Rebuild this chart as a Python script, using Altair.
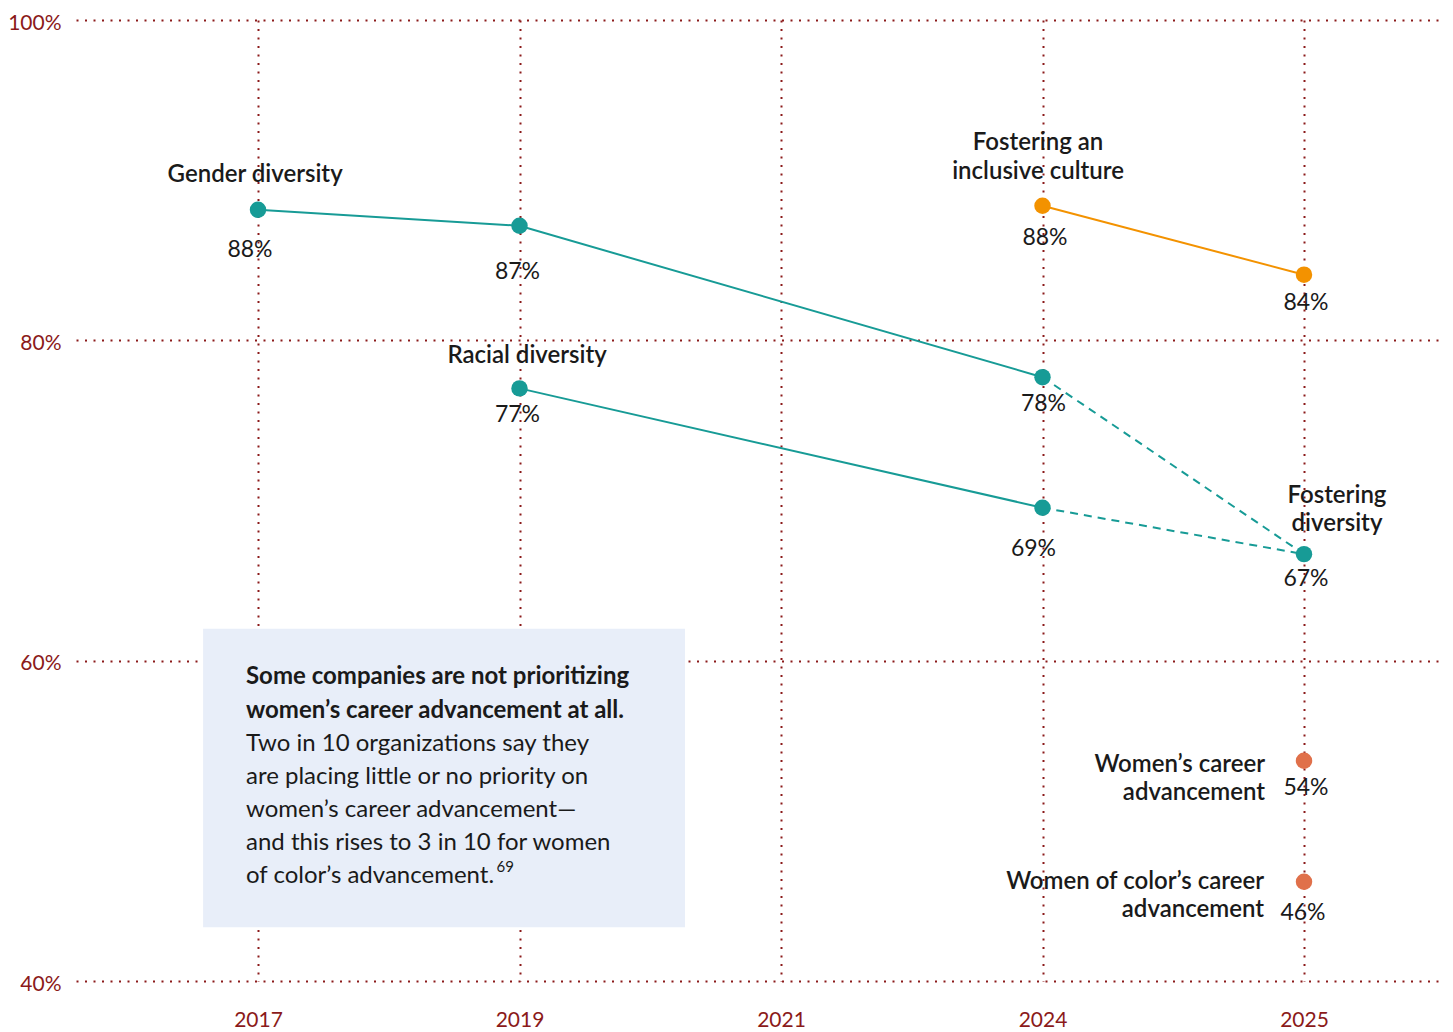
import json
import altair as alt
import pandas as pd

# ---------------- data ----------------
years = ["2017", "2019", "2021", "2024", "2025"]

gender_years = ["2017", "2019", "2024", "2025"]
gender_values = [88.15, 87.15, 77.7, 66.65]
gender_labels = ["88%", "87%", "78%", "67%"]

racial_years = ["2019", "2024", "2025"]
racial_values = [77.0, 69.55, 66.65]
racial_labels = ["77%", "69%", ""]

inclusive_years = ["2024", "2025"]
inclusive_values = [88.4, 84.1]
inclusive_labels = ["88%", "84%"]

women_years = ["2025"]
women_values = [53.75]
women_labels = ["54%"]

woc_years = ["2025"]
woc_values = [46.2]
woc_labels = ["46%"]

# ---------------- layout / style ----------------
W, H = 1369, 961
STEP = 261.5
X_MIN = -0.696
X_MAX = X_MIN + W / STEP
Y_MIN, Y_MAX = 40, 100
PX_X = W / (X_MAX - X_MIN)
PX_Y = H / (Y_MAX - Y_MIN)

TEAL = "#179b96"
ORANGE = "#f39200"
CORAL = "#e0704a"
GRID = "#8b1a1a"
TEXT = "#1a1a1a"
BOX = "#e8eef9"
FONT = "Lato"

# label offsets in pixels (dx, dy below point)
gender_off = [(-8, 40), (-2, 46), (1, 27), (2, 25)]
racial_off = [(-2, 27), (-9, 41), (0, 0)]
inclusive_off = [(2.5, 32), (2, 28)]
women_off = [(2, 27)]
woc_off = [(-1, 31)]

idx = {y: i for i, y in enumerate(years)}

# ---------------- tables ----------------
def pts(name, yrs, vals, color):
    return [{"series": name, "x": idx[y], "v": v, "color": color} for y, v in zip(yrs, vals)]

solid_rows = (
    [dict(r, order=i) for i, r in enumerate(pts("g", gender_years[:3], gender_values[:3], TEAL))]
    + [dict(r, order=i) for i, r in enumerate(pts("r", racial_years[:2], racial_values[:2], TEAL))]
    + [dict(r, order=i) for i, r in enumerate(pts("i", inclusive_years, inclusive_values, ORANGE))]
)
dash_rows = (
    [dict(r, order=i) for i, r in enumerate(pts("g", gender_years[2:], gender_values[2:], TEAL))]
    + [dict(r, order=i) for i, r in enumerate(pts("r", racial_years[1:], racial_values[1:], TEAL))]
)
point_rows = (
    pts("g", gender_years, gender_values, TEAL)
    + pts("r", racial_years[:2], racial_values[:2], TEAL)
    + pts("i", inclusive_years, inclusive_values, ORANGE)
    + pts("w", women_years, women_values, CORAL)
    + pts("c", woc_years, woc_values, CORAL)
)

label_rows = []
for yrs, vals, labs, offs in [
    (gender_years, gender_values, gender_labels, gender_off),
    (racial_years, racial_values, racial_labels, racial_off),
    (inclusive_years, inclusive_values, inclusive_labels, inclusive_off),
    (women_years, women_values, women_labels, women_off),
    (woc_years, woc_values, woc_labels, woc_off),
]:
    for y, v, t, (dx, dy) in zip(yrs, vals, labs, offs):
        if t:
            label_rows.append({"x": idx[y] + dx / PX_X, "v": v - dy / PX_Y, "t": t})

series_center = pd.DataFrame([
    {"x": -0.011, "v": 90.33, "t": "Gender diversity"},
    {"x": 1.029, "v": 79.04, "t": "Racial diversity"},
    {"x": 2.983, "v": 92.33, "t": "Fostering an"},
    {"x": 2.983, "v": 90.52, "t": "inclusive culture"},
    {"x": 4.126, "v": 70.31, "t": "Fostering"},
    {"x": 4.126, "v": 68.56, "t": "diversity"},
])
series_right = pd.DataFrame([
    {"x": 3.851, "v": 53.46, "t": "Women\u2019s career"},
    {"x": 3.851, "v": 51.72, "t": "advancement"},
    {"x": 3.847, "v": 46.16, "t": "Women of color\u2019s career"},
    {"x": 3.847, "v": 44.42, "t": "advancement"},
])

box_df = pd.DataFrame([{"x": -0.210, "x2": 1.633, "v": 62.0, "v2": 43.36}])
box_bold = pd.DataFrame([
    {"x": -0.046, "v": 58.95, "t": "Some companies are not prioritizing"},
    {"x": -0.046, "v": 56.83, "t": "women\u2019s career advancement at all."},
])
box_reg = pd.DataFrame([
    {"x": -0.046, "v": 54.77, "t": "Two in 10 organizations say they"},
    {"x": -0.046, "v": 52.71, "t": "are placing little or no priority on"},
    {"x": -0.046, "v": 50.65, "t": "women\u2019s career advancement\u2014"},
    {"x": -0.046, "v": 48.60, "t": "and this rises to 3 in 10 for women"},
    {"x": -0.046, "v": 46.54, "t": "of color\u2019s advancement."},
])
sup_df = pd.DataFrame([{"x": 0.912, "v": 47.10, "t": "69"}])

# ---------------- encodings ----------------
label_expr = json.dumps(years) + "[datum.value]"
xs = alt.Scale(domain=[X_MIN, X_MAX], nice=False, zero=False)
ys = alt.Scale(domain=[Y_MIN, Y_MAX], nice=False, zero=False)

X = alt.X("x:Q", scale=xs, axis=alt.Axis(
    values=[0, 1, 2, 3, 4], labelExpr=label_expr, title=None, domain=False, ticks=False,
    grid=True, gridColor=GRID, gridDash=[2, 6.5], gridWidth=2, gridOpacity=1,
    labelColor=GRID, labelFont=FONT, labelFontSize=21, labelPadding=28))
Y = alt.Y("v:Q", scale=ys, axis=alt.Axis(
    values=[40, 60, 80, 100], labelExpr="datum.value + '%'", title=None, domain=False,
    ticks=False, grid=True, gridColor=GRID, gridDash=[2, 6.5], gridWidth=2, gridOpacity=1,
    labelColor=GRID, labelFont=FONT, labelFontSize=21, labelPadding=15, labelOffset=3))
Xp = alt.X("x:Q", scale=xs)
Yp = alt.Y("v:Q", scale=ys)

box = alt.Chart(box_df).mark_rect(color=BOX).encode(
    x=X, x2="x2:Q", y=Y, y2="v2:Q")

solid = alt.Chart(pd.DataFrame(solid_rows)).mark_line(strokeWidth=2).encode(
    x=Xp, y=Yp, detail="series:N", order="order:Q",
    color=alt.Color("color:N", scale=None))
dashed = alt.Chart(pd.DataFrame(dash_rows)).mark_line(strokeWidth=2, strokeDash=[8, 6]).encode(
    x=Xp, y=Yp, detail="series:N", order="order:Q",
    color=alt.Color("color:N", scale=None))
points = alt.Chart(pd.DataFrame(point_rows)).mark_circle(size=270, opacity=1).encode(
    x=Xp, y=Yp, color=alt.Color("color:N", scale=None))

vlabels = alt.Chart(pd.DataFrame(label_rows)).mark_text(
    font=FONT, fontSize=23, color=TEXT, align="center", baseline="middle").encode(
    x=Xp, y=Yp, text="t:N")
slab_c = alt.Chart(series_center).mark_text(
    font=FONT, fontSize=24, fontWeight=600, color=TEXT, align="center", baseline="middle").encode(
    x=Xp, y=Yp, text="t:N")
slab_r = alt.Chart(series_right).mark_text(
    font=FONT, fontSize=24, fontWeight=600, color=TEXT, align="right", baseline="middle").encode(
    x=Xp, y=Yp, text="t:N")
bold_txt = alt.Chart(box_bold).mark_text(
    font=FONT, fontSize=24, fontWeight="bold", color=TEXT, align="left", baseline="middle").encode(
    x=Xp, y=Yp, text="t:N")
reg_txt = alt.Chart(box_reg).mark_text(
    font=FONT, fontSize=24, color=TEXT, align="left", baseline="middle").encode(
    x=Xp, y=Yp, text="t:N")
sup_txt = alt.Chart(sup_df).mark_text(
    font=FONT, fontSize=15, color=TEXT, align="left", baseline="middle").encode(
    x=Xp, y=Yp, text="t:N")

chart = alt.layer(
    box, solid, dashed, points, vlabels, slab_c, slab_r, bold_txt, reg_txt, sup_txt
).properties(
    width=W, height=H,
    autosize=alt.AutoSizeParams(type="none"),
    padding={"left": 68, "top": 12, "right": 0, "bottom": 50},
).configure_view(stroke=None)

chart.save("out.html", embed_options={"renderer": "svg", "actions": False})
